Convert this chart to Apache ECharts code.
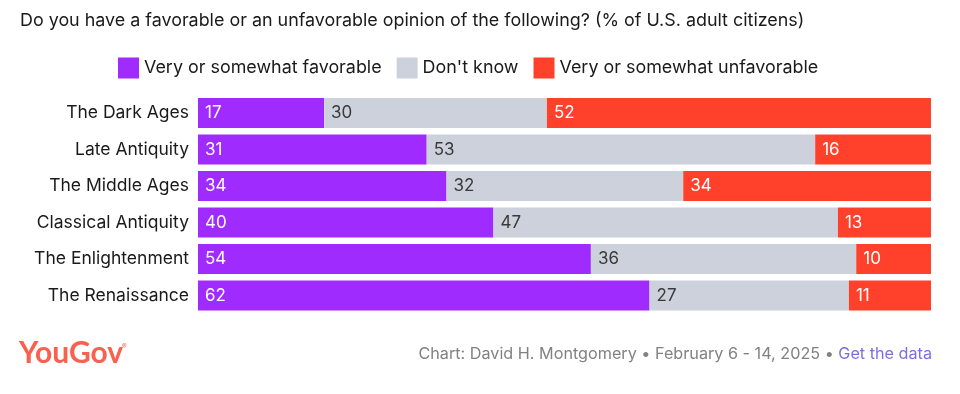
<!DOCTYPE html>
<html><head><meta charset="utf-8">
<script src="https://cdn.jsdelivr.net/npm/echarts@6/dist/echarts.min.js"></script>
<style>html,body{margin:0;padding:0;background:#fff}#c{width:960px;height:394px}</style>
</head><body><div id="c"></div>
<script>
const categories = ["The Dark Ages","Late Antiquity","The Middle Ages","Classical Antiquity","The Enlightenment","The Renaissance"];
// shares (%); labels show them rounded
const favorable = [17.2,31.2,33.9,40.3,53.6,61.6];
const dontKnow = [30.4,53.0,32.3,47.0,36.2,27.2];
const unfavorable = [52.4,15.8,33.8,12.7,10.2,11.2];
const seriesNames = ["Very or somewhat favorable","Don't know","Very or somewhat unfavorable"];
const colors = ["#9f2bff","#ccd1db","#ff412c"];
const FONT = "Inter";

const raw = [favorable, dontKnow, unfavorable];

const chart = echarts.init(document.getElementById('c'));
chart.setOption({
  animation:false,
  textStyle:{fontFamily:FONT},
  title:{text:"Do you have a favorable or an unfavorable opinion of the following? (% of U.S. adult citizens)",
    left:20, top:12, padding:0, textStyle:{fontFamily:FONT,fontSize:17.9,fontWeight:'normal',color:'#1a1a1a'}},
  legend:{top:57.5, left:118, padding:0, itemWidth:21, itemHeight:21, itemGap:15, icon:'rect',
    textStyle:{fontFamily:FONT,fontSize:17.9,color:'#1a1a1a'},
    data:seriesNames},
  grid:{left:198,right:29,top:94.75,bottom:80.25,containLabel:false},
  xAxis:{type:'value',min:0,max:100,show:false},
  yAxis:{type:'category',inverse:true,data:categories,
    axisLine:{show:false},axisTick:{show:false},
    axisLabel:{fontFamily:FONT,fontSize:17.5,color:'#1a1a1a',margin:9}},
  series: raw.map((arr,k)=>({
    name:seriesNames[k], type:'bar', stack:'t', barWidth:30,
    itemStyle:{color:colors[k]},
    data: arr.slice(),
    label:{show:true, position:'insideLeft', distance:7,
      fontFamily:FONT, fontSize:17, color: k===1?'#3a3a3a':'#ffffff',
      formatter:p=>String(Math.round(p.value))}
  })),
  graphic:[
    {type:'text', left:19, top:338, style:{text:'YouGov', fontFamily:'Lato', fontWeight:'bold', fontSize:30, fill:'#f8604f'}},
    {type:'text', left:122, top:343, style:{text:'®', fontFamily:FONT, fontSize:7, fill:'#f8604f'}},
    {type:'text', right:28, top:346, style:{
      rich:{g:{fontFamily:FONT,fontSize:16.2,fill:'#828282'},l:{fontFamily:FONT,fontSize:16.2,fill:'#7d6fe0'}},
      text:'{g|Chart: David H. Montgomery • February 6 - 14, 2025 • }{l|Get the data}'}}
  ]
});
</script></body></html>
